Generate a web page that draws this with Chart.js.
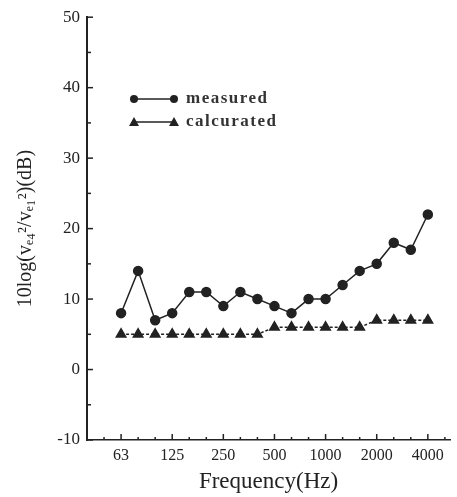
<!DOCTYPE html>
<html>
<head>
<meta charset="utf-8">
<script src="https://cdn.jsdelivr.net/npm/chart.js@4/dist/chart.umd.min.js"></script>
<style>
  html, body { margin: 0; padding: 0; background: #fff; }
  #wrap { width: 457px; height: 497px; }
</style>
</head>
<body>
<div id="wrap"><canvas id="chart" width="457" height="497"></canvas></div>
<script>
// --- DATA ---
// one-third octave bands on the axis (50 .. 5000 Hz)
const bands = [50, 63, 80, 100, 125, 160, 200, 250, 315, 400, 500, 630, 800, 1000, 1250, 1600, 2000, 2500, 3150, 4000, 5000];
const labeledBands = [63, 125, 250, 500, 1000, 2000, 4000];
// series run from 63 Hz to 4000 Hz
const measuredFreqs = [63, 80, 100, 125, 160, 200, 250, 315, 400, 500, 630, 800, 1000, 1250, 1600, 2000, 2500, 3150, 4000];
const measured = [8, 14, 7, 8, 11, 11, 9, 11, 10, 9, 8, 10, 10, 12, 14, 15, 18, 17, 22];
const calculated = [5, 5, 5, 5, 5, 5, 5, 5, 5, 6, 6, 6, 6, 6, 6, 7, 7, 7, 7];
const yTicks = [-10, 0, 10, 20, 30, 40, 50];

const INK = "#222";
const SERIF = "'Liberation Serif', 'DejaVu Serif', serif";

const toPoints = vals => vals.map((v, i) => ({ x: bands.indexOf(measuredFreqs[i]), y: v }));

// inward tick marks on both axes
const inwardTicks = {
  id: "inwardTicks",
  afterDraw(chart) {
    const ctx = chart.ctx;
    const xs = chart.scales.x, ys = chart.scales.y;
    ctx.save();
    ctx.strokeStyle = INK;
    ctx.lineWidth = 1.5;
    bands.forEach((f, i) => {
      const px = xs.getPixelForValue(i);
      const len = labeledBands.includes(f) ? 6 : 3;
      ctx.beginPath();
      ctx.moveTo(px, ys.bottom);
      ctx.lineTo(px, ys.bottom - len);
      ctx.stroke();
    });
    for (let v = -10; v <= 50; v += 5) {
      const py = ys.getPixelForValue(v);
      const len = v % 10 === 0 ? 6 : 4;
      ctx.beginPath();
      ctx.moveTo(xs.left, py);
      ctx.lineTo(xs.left + len, py);
      ctx.stroke();
    }
    ctx.restore();
  }
};

// legend drawn as marker - line - marker + text
const pairLegend = {
  id: "pairLegend",
  afterDraw(chart) {
    const ctx = chart.ctx;
    const rows = [
      { y: 99, shape: "circle", text: "measured" },
      { y: 122, shape: "triangle", text: "calcurated" }
    ];
    ctx.save();
    ctx.fillStyle = INK;
    ctx.strokeStyle = INK;
    ctx.lineWidth = 1.5;
    rows.forEach(r => {
      const x1 = 134, x2 = 174;
      ctx.beginPath();
      ctx.moveTo(x1, r.y);
      ctx.lineTo(x2, r.y);
      ctx.stroke();
      [x1, x2].forEach(x => {
        ctx.beginPath();
        if (r.shape === "circle") {
          ctx.arc(x, r.y, 4, 0, Math.PI * 2);
        } else {
          ctx.moveTo(x, r.y - 5);
          ctx.lineTo(x + 5, r.y + 4);
          ctx.lineTo(x - 5, r.y + 4);
          ctx.closePath();
        }
        ctx.fill();
      });
      ctx.font = "bold 17px " + SERIF;
      ctx.letterSpacing = "1.5px";
      ctx.textBaseline = "middle";
      ctx.textAlign = "left";
      ctx.fillStyle = "#333";
      ctx.fillText(r.text, 186, r.y);
      ctx.fillStyle = INK;
    });
    ctx.restore();
  }
};

new Chart(document.getElementById("chart"), {
  type: "line",
  data: {
    datasets: [
      {
        label: "measured",
        data: toPoints(measured),
        borderColor: INK,
        backgroundColor: INK,
        borderWidth: 1.5,
        pointStyle: "circle",
        pointRadius: 4.5,
        tension: 0
      },
      {
        label: "calcurated",
        data: toPoints(calculated),
        borderColor: INK,
        backgroundColor: INK,
        borderWidth: 1.5,
        borderDash: [3, 2],
        pointStyle: "triangle",
        pointRadius: 5.5,
        tension: 0
      }
    ]
  },
  options: {
    responsive: false,
    animation: false,
    layout: { padding: { top: 15, right: 7, left: 0, bottom: 0 } },
    plugins: {
      legend: { display: false },
      tooltip: { enabled: false }
    },
    scales: {
      x: {
        type: "linear",
        min: -1,
        max: 20.3,
        afterFit: s => { s.height = 57; },
        grid: { display: true, drawOnChartArea: false, drawTicks: false },
        border: { display: true, color: INK, width: 1.5 },
        ticks: {
          stepSize: 1,
          autoSkip: false,
          maxRotation: 0,
          padding: 6,
          color: "#222",
          font: { family: SERIF, size: 16 },
          callback: v => {
            const f = bands[v];
            return Number.isInteger(v) && labeledBands.includes(f) ? String(f) : "";
          }
        },
        title: {
          display: true,
          text: "Frequency(Hz)",
          color: "#222",
          font: { family: SERIF, size: 23 },
          padding: { top: 0, bottom: 1 }
        }
      },
      y: {
        min: -10,
        max: 50,
        afterFit: s => { s.width = 87; },
        grid: { display: true, drawOnChartArea: false, drawTicks: false },
        border: { display: true, color: INK, width: 2 },
        afterBuildTicks: s => { s.ticks = yTicks.map(v => ({ value: v })); },
        ticks: {
          padding: 7,
          color: "#222",
          font: { family: SERIF, size: 17 }
        },
        title: {
          display: true,
          text: "10log(vₑ₄²/vₑ₁²)(dB)",
          color: "#222",
          font: { family: SERIF, size: 20 },
          padding: { top: 14, bottom: 0 }
        }
      }
    }
  },
  plugins: [inwardTicks, pairLegend]
});
</script>
</body>
</html>
